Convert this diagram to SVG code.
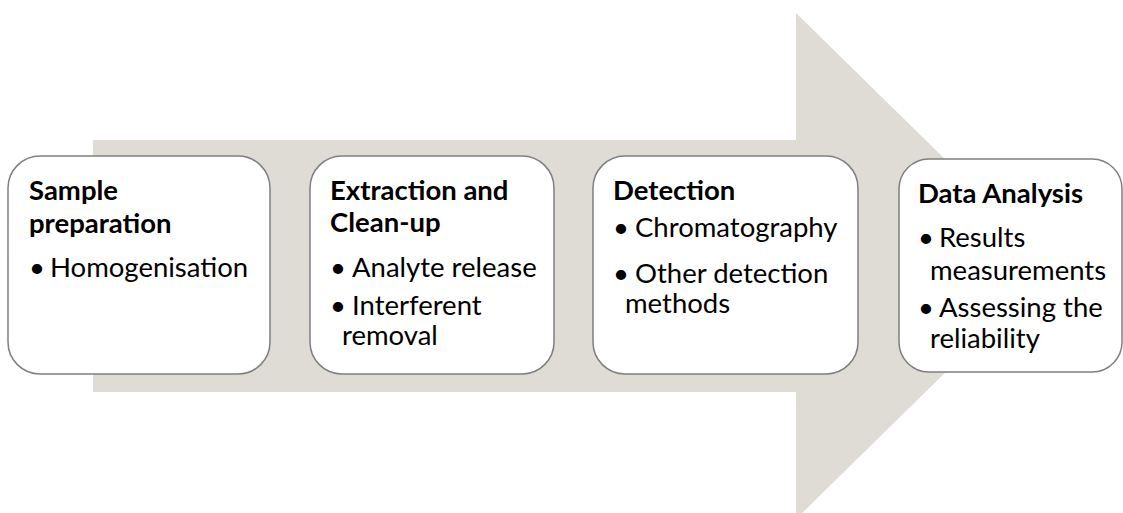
<svg xmlns="http://www.w3.org/2000/svg" width="1123" height="513" viewBox="0 0 1123 513">
<style>
.box{fill:#ffffff;stroke:#7f7f7f;stroke-width:1.5}
.t{font-family:Lato,"Open Sans",sans-serif;font-size:27.5px;fill:#000}
.b{font-weight:bold}
</style>
<rect width="1123" height="513" fill="#ffffff"/>
<g id="arrow">
<polygon points="93,140 796,140 796,13 1054,266 796,519 796,392 93,392" fill="#dfdcd6"/>
</g>
<g id="connectors"></g>
<g id="node1">
<rect class="box" x="8" y="156" width="262" height="218" rx="32"/>
<text class="t b" x="29" y="200">Sample</text>
<text class="t b" x="29" y="233">preparation</text>
<text class="t" x="29" y="277">•<tspan x="50">Homogenisation</tspan></text>
</g>
<g id="node2">
<rect class="box" x="310" y="156" width="244" height="218" rx="32"/>
<text class="t b" x="330" y="200">Extraction and</text>
<text class="t b" x="330" y="232">Clean-up</text>
<text class="t" x="330" y="277">•<tspan x="352">Analyte release</tspan></text>
<text class="t" x="330" y="315">•<tspan x="352">Interferent</tspan></text>
<text class="t" x="342" y="345">removal</text>
</g>
<g id="node3">
<rect class="box" x="593" y="156" width="265" height="218" rx="32"/>
<text class="t b" x="613" y="200">Detection</text>
<text class="t" x="613" y="237">•<tspan x="635">Chromatography</tspan></text>
<text class="t" x="613" y="283">•<tspan x="635">Other detection</tspan></text>
<text class="t" x="625" y="313">methods</text>
</g>
<g id="node4">
<rect class="box" x="899" y="159" width="223" height="213" rx="30"/>
<text class="t b" x="918" y="203">Data Analysis</text>
<text class="t" x="918" y="247">•<tspan x="939">Results</tspan></text>
<text class="t" x="930" y="280">measurements</text>
<text class="t" x="918" y="317">•<tspan x="939">Assessing the</tspan></text>
<text class="t" x="930" y="348">reliability</text>
</g>
</svg>
